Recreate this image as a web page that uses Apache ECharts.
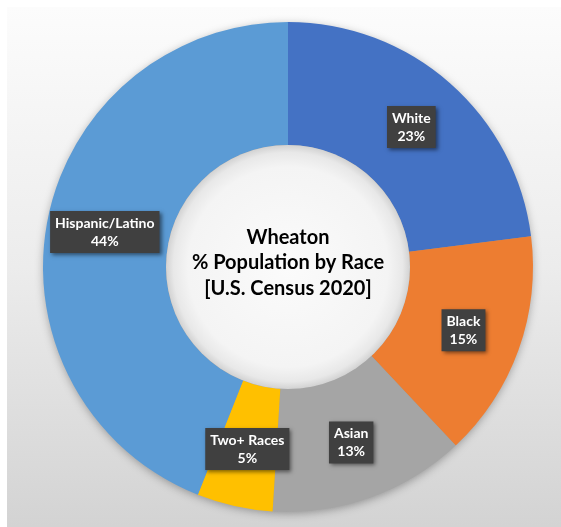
<!DOCTYPE html>
<html>
<head>
<meta charset="utf-8">
<script src="https://cdn.jsdelivr.net/npm/echarts@6/dist/echarts.min.js"></script>
<style>
  html, body { margin: 0; padding: 0; background: #ffffff; }
  #wrap { position: absolute; left: 0; top: 0; width: 561px; height: 527px; background: #ffffff; }
  #bg { position: absolute; left: 7px; top: 7px; width: 554px; height: 520px;
        background: linear-gradient(to bottom, #fcfcfc 0%, #ececec 50%, #d3d3d3 100%); }
  #chart { position: absolute; left: 0; top: 0; width: 561px; height: 527px; }
</style>
</head>
<body>
<div id="wrap"><div id="bg"></div><div id="chart"></div></div>
<script>
var categories = ['White', 'Black', 'Asian', 'Two+ Races', 'Hispanic/Latino'];
var values = [23, 15, 13, 5, 44];
var colors = ['#4472C4', '#ED7D31', '#A5A5A5', '#FFC000', '#5B9BD5'];
var titleLines = ['Wheaton', '% Population by Race', '[U.S. Census 2020]'];

var chart = echarts.init(document.getElementById('chart'), null, { renderer: 'canvas' });
var data = categories.map(function (c, i) {
  return { name: c, value: values[i], itemStyle: { color: colors[i] } };
});
var font = 'Lato, "Open Sans", "DejaVu Sans", sans-serif';
chart.setOption({
  backgroundColor: 'transparent',
  animation: false,
  graphic: [
    {
      type: 'circle', z: 0,
      shape: { cx: 288, cy: 267, r: 244 },
      style: { fill: '#999', shadowBlur: 10, shadowColor: 'rgba(0,0,0,0.35)', shadowOffsetY: 2 }
    },
    {
      type: 'circle', z: 10,
      shape: { cx: 288, cy: 267, r: 122 },
      style: {
        fill: {
          type: 'radial', x: 0.5, y: 0.5, r: 0.5,
          colorStops: [
            { offset: 0, color: '#fbfbfb' },
            { offset: 0.82, color: '#f4f4f4' },
            { offset: 0.94, color: '#e8e8e8' },
            { offset: 1, color: '#d2d2d2' }
          ]
        }
      }
    },
    {
      type: 'text', z: 11,
      x: 288, y: 263,
      style: {
        text: titleLines.join('\n'),
        fill: '#000000',
        font: 'bold 20px ' + font,
        lineHeight: 25.5,
        textAlign: 'center',
        textVerticalAlign: 'middle'
      }
    }
  ],
  series: [{
    type: 'pie',
    z: 2,
    center: [288, 267],
    radius: [122, 245],
    startAngle: 90,
    clockwise: true,
    avoidLabelOverlap: false,
    data: data,
    label: {
      show: true,
      position: 'inside',
      formatter: '{b}\n{c}%',
      color: '#ffffff',
      fontFamily: font,
      fontWeight: 'bold',
      fontSize: 14,
      lineHeight: 18,
      align: 'center',
      backgroundColor: '#404040',
      padding: [3, 5, 3, 5],
      shadowColor: 'rgba(0,0,0,0.5)',
      shadowBlur: 4,
      shadowOffsetX: 2,
      shadowOffsetY: 2
    },
    labelLine: { show: false },
    emphasis: { disabled: true },
    itemStyle: { borderWidth: 0 }
  }]
});
</script>
</body>
</html>
